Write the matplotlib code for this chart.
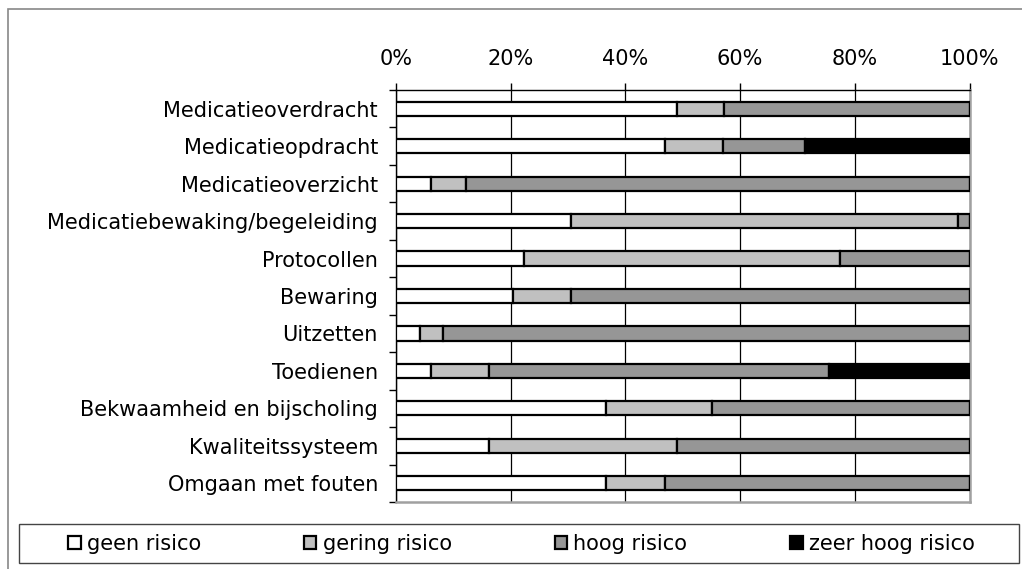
import matplotlib.pyplot as plt
import numpy as np
from matplotlib.patches import Patch, Rectangle

# --- data (percentages) ---
categorieen = ['Medicatieoverdracht', 'Medicatieopdracht', 'Medicatieoverzicht',
               'Medicatiebewaking/begeleiding', 'Protocollen', 'Bewaring',
               'Uitzetten', 'Toedienen', 'Bekwaamheid en bijscholing',
               'Kwaliteitssysteem', 'Omgaan met fouten']
geen_risico = [49.0, 46.9, 6.1, 30.6, 22.4, 20.4, 4.1, 6.1, 36.7, 16.3, 36.7]
gering_risico = [8.2, 10.2, 6.1, 67.4, 55.1, 10.2, 4.1, 10.2, 18.4, 32.7, 10.2]
hoog_risico = [42.8, 14.3, 87.8, 2.0, 22.5, 69.4, 91.8, 59.2, 44.9, 51.0, 53.1]
zeer_hoog_risico = [0.0, 28.6, 0.0, 0.0, 0.0, 0.0, 0.0, 24.5, 0.0, 0.0, 0.0]

reeksen = [geen_risico, gering_risico, hoog_risico, zeer_hoog_risico]
labels = ['geen risico', 'gering risico', 'hoog risico', 'zeer hoog risico']
kleuren = ['white', '#c0c0c0', '#969696', 'black']

plt.rcParams['font.family'] = ['DejaVu Sans']
plt.rcParams['font.size'] = 15

fig = plt.figure(figsize=(10.22, 5.69), dpi=100)
ax = fig.add_axes([396 / 1022, 1 - 502 / 569, 573.5 / 1022, 412 / 569])

y = np.arange(len(categorieen))
links = np.zeros(len(categorieen))
for waarden, kleur in zip(reeksen, kleuren):
    ax.barh(y, waarden, left=links, height=0.38, color=kleur,
            edgecolor='black', linewidth=1.6, zorder=3)
    links += np.array(waarden)

ax.set_xlim(0, 100)
ax.set_ylim(len(categorieen) - 0.5, -0.5)

# x-as bovenaan
ax.xaxis.tick_top()
ax.set_xticks(range(0, 101, 20))
ax.set_xticklabels([f'{v}%' for v in range(0, 101, 20)])
ax.tick_params(axis='x', length=5, width=1, pad=10)

# y-as: labels in het midden, streepjes op de grenzen
ax.set_yticks(y)
ax.set_yticklabels(categorieen)
ax.set_yticks(np.arange(len(categorieen) + 1) - 0.5, minor=True)
ax.tick_params(axis='y', which='major', length=0, pad=13)
ax.tick_params(axis='y', which='minor', length=5, width=1)

ax.grid(axis='x', color='black', linewidth=0.9, zorder=1)
ax.set_axisbelow(True)

for kant in ['top', 'left']:
    ax.spines[kant].set_color('black')
    ax.spines[kant].set_linewidth(1)
for kant in ['right', 'bottom']:
    ax.spines[kant].set_color('#a0a0a0')
    ax.spines[kant].set_linewidth(1.8)

# legenda
handles = [Patch(facecolor=k, edgecolor='black', linewidth=1.6) for k in kleuren]
fig.legend(handles, labels, ncol=4, mode='expand', loc='center',
           bbox_to_anchor=(68 / 1022, 1 - 563 / 569, 907 / 1022, 39 / 569),
           frameon=False, borderpad=0, borderaxespad=0,
           handlelength=0.6, handleheight=0.6, handletextpad=0.3, fontsize=15)
fig.add_artist(Rectangle((19 / 1022, 1 - 563 / 569), 1000 / 1022, 39 / 569,
                         transform=fig.transFigure, fill=False,
                         edgecolor='#444444', linewidth=1))

# kader om de figuur
fig.add_artist(Rectangle((8 / 1022, -0.1), 1.2, 1.1 - 9 / 569,
                         transform=fig.transFigure, fill=False,
                         edgecolor='#888888', linewidth=1.2))

fig.savefig('out.png', dpi=100)
